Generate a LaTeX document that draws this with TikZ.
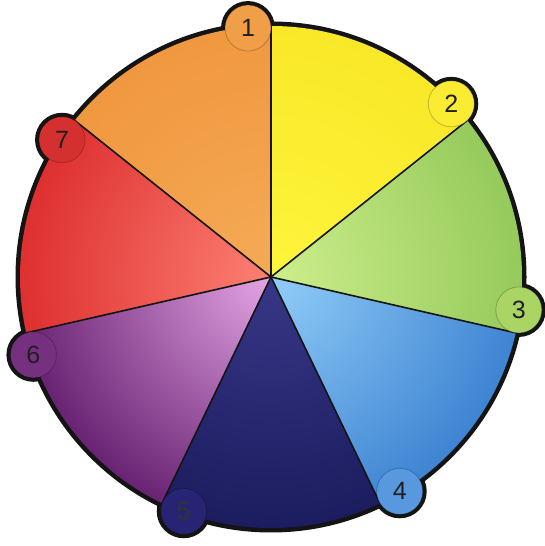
\documentclass[tikz,border=0pt]{standalone}
\usepackage{fontspec}
\setmainfont{Liberation Sans}
\definecolor{orI}{RGB}{246,170,86}
\definecolor{orO}{RGB}{240,152,64}
\definecolor{yeI}{RGB}{255,245,60}
\definecolor{yeO}{RGB}{248,232,40}
\definecolor{grI}{RGB}{205,238,140}
\definecolor{grO}{RGB}{150,202,92}
\definecolor{blI}{RGB}{145,205,248}
\definecolor{blO}{RGB}{62,132,210}
\definecolor{nvI}{RGB}{55,55,135}
\definecolor{nvO}{RGB}{28,28,95}
\definecolor{puI}{RGB}{228,165,228}
\definecolor{puO}{RGB}{105,35,115}
\definecolor{reI}{RGB}{252,128,115}
\definecolor{reO}{RGB}{222,48,48}
\definecolor{c1}{RGB}{240,158,72}
\definecolor{c2}{RGB}{250,236,50}
\definecolor{c3}{RGB}{170,212,100}
\definecolor{c4}{RGB}{88,152,222}
\definecolor{c5}{RGB}{38,36,115}
\definecolor{c6}{RGB}{118,48,128}
\definecolor{c7}{RGB}{212,48,48}
\definecolor{rim}{RGB}{20,20,20}
\tikzset{
  numc/.style={circle, inner sep=0pt, minimum size=46pt, draw=black, draw opacity=0.22, line width=0.8pt,
    font=\fontsize{25}{25}\selectfont, text=black!88},
  divider/.style={draw=rim, line width=1.6pt}
}
\begin{document}
\begin{tikzpicture}[x=1pt,y=1pt]
\useasboundingbox (0,0) rectangle (545,546);
\def\R{251}
\def\W{51.4286}
\coordinate (O) at (271,269);
% black base: main disk and number circle rims
\fill[rim] (O) circle (\R+4.5);
\foreach \k in {1,...,7} {
  \pgfmathsetmacro\ang{95.28-\W*(\k-1)}
  \fill[rim] ([shift={(\ang:250)}]O) circle (27);
}
% wedges
\foreach \k/\ci/\co in {1/orI/orO,2/yeI/yeO,3/grI/grO,4/blI/blO,5/nvI/nvO,6/puI/puO,7/reI/reO} {
  \pgfmathsetmacro\a{90-\W*(\k-1)}
  \pgfmathsetmacro\b{\a+\W}
  \pgfmathsetmacro\m{\a+\W/2}
  \begin{scope}
    \clip (O) -- ([shift={(\a:320)}]O) -- ([shift={(\m:320)}]O) -- ([shift={(\b:320)}]O) -- cycle;
    \shade[inner color=\ci, outer color=\co] (O) circle (\R);
  \end{scope}
}
% dividers
\foreach \k in {1,...,7} {
  \pgfmathsetmacro\a{90-\W*(\k-1)}
  \draw[divider] (O) -- ([shift={(\a:\R)}]O);
}
% number circles
\node[numc, fill=c1] (n1) at ([shift={(95.28:250)}]O) {1};
\node[numc, fill=c2] (n2) at ([shift={(95.28-\W:250)}]O) {2};
\node[numc, fill=c3] (n3) at ([shift={(95.28-2*\W:250)}]O) {3};
\node[numc, fill=c4] (n4) at ([shift={(95.28-3*\W:250)}]O) {4};
\node[numc, fill=c5, text=black!80] (n5) at ([shift={(95.28-4*\W:250)}]O) {5};
\node[numc, fill=c6] (n6) at ([shift={(95.28-5*\W:250)}]O) {6};
\node[numc, fill=c7] (n7) at ([shift={(95.28-6*\W:250)}]O) {7};
\end{tikzpicture}
\end{document}
